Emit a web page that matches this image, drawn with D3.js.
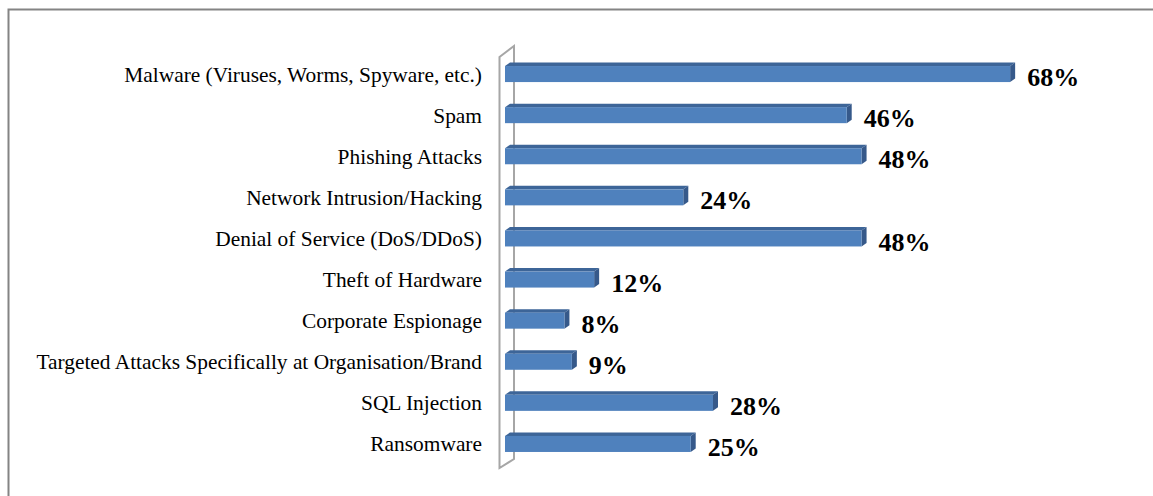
<!DOCTYPE html>
<html>
<head>
<meta charset="utf-8">
<script src="https://cdn.jsdelivr.net/npm/d3@7"></script>
<style>
  html, body { margin: 0; padding: 0; background: #fff; }
  svg { display: block; }
</style>
</head>
<body>
<svg id="chart" width="1153" height="496"></svg>
<script>
// Threat categories, top to bottom
const categories = [
  "Malware (Viruses, Worms, Spyware, etc.)",
  "Spam",
  "Phishing Attacks",
  "Network Intrusion/Hacking",
  "Denial of Service (DoS/DDoS)",
  "Theft of Hardware",
  "Corporate Espionage",
  "Targeted Attacks Specifically at Organisation/Brand",
  "SQL Injection",
  "Ransomware"
];
// Share of respondents (%)
const values = [68, 46, 48, 24, 48, 12, 8, 9, 28, 25];

const svg = d3.select("#chart");

// Outer chart frame
svg.append("rect")
  .attr("x", 8.5).attr("y", 9.5)
  .attr("width", 1200).attr("height", 600)
  .attr("fill", "none").attr("stroke", "#848484").attr("stroke-width", 2);

const x = d3.scaleLinear().domain([0, 70]).range([505, 1025]);
const y = d3.scaleBand().domain(categories).range([53.5, 464.5]).paddingInner(0.61).paddingOuter(0.305);

const dx = 5, dy = 3.5;   // 3-D depth offset of each bar
const bw = y.bandwidth();

// Axis wall (thin 3-D plane on the left)
const wallL = 499.5, wallR = 514;
svg.append("polygon")
  .attr("points", [
    [wallL, 57], [wallR, 46], [wallR, 459], [wallL, 468]
  ].map(p => p.join(",")).join(" "))
  .attr("fill", "none").attr("stroke", "#a6a6a6").attr("stroke-width", 2)
  .attr("stroke-linejoin", "miter");

// Category labels
svg.append("g").selectAll("text")
  .data(categories)
  .join("text")
  .attr("x", 482)
  .attr("y", d => y(d) + bw / 2)
  .attr("dy", "0.35em")
  .attr("text-anchor", "end")
  .attr("font-family", "'Liberation Serif', 'Times New Roman', serif")
  .attr("font-size", 21.4)
  .attr("fill", "#000")
  .text(d => d);

const data = categories.map((c, i) => ({ c, v: values[i] }));
const bars = svg.append("g").selectAll("g").data(data).join("g");

// top face
bars.append("polygon")
  .attr("points", d => {
    const x0 = x(0), x1 = x(d.v), yt = y(d.c);
    return [[x0, yt], [x0 + dx, yt - dy], [x1 + dx, yt - dy], [x1, yt]].map(p => p.join(",")).join(" ");
  })
  .attr("fill", "#3d6598");

// side face
bars.append("polygon")
  .attr("points", d => {
    const x1 = x(d.v), yt = y(d.c);
    return [[x1, yt], [x1 + dx, yt - dy], [x1 + dx, yt + bw - dy], [x1, yt + bw]].map(p => p.join(",")).join(" ");
  })
  .attr("fill", "#36598a");

// front face
bars.append("rect")
  .attr("x", x(0))
  .attr("y", d => y(d.c))
  .attr("width", d => x(d.v) - x(0))
  .attr("height", bw)
  .attr("fill", "#4f81bd");

// value labels
bars.append("text")
  .attr("x", d => x(d.v) + 17)
  .attr("y", d => y(d.c) + bw / 2 + 3)
  .attr("dy", "0.35em")
  .attr("font-family", "'Liberation Serif', 'Times New Roman', serif")
  .attr("font-weight", "bold")
  .attr("font-size", 26)
  .attr("fill", "#000")
  .text(d => d.v + "%");
</script>
</body>
</html>
